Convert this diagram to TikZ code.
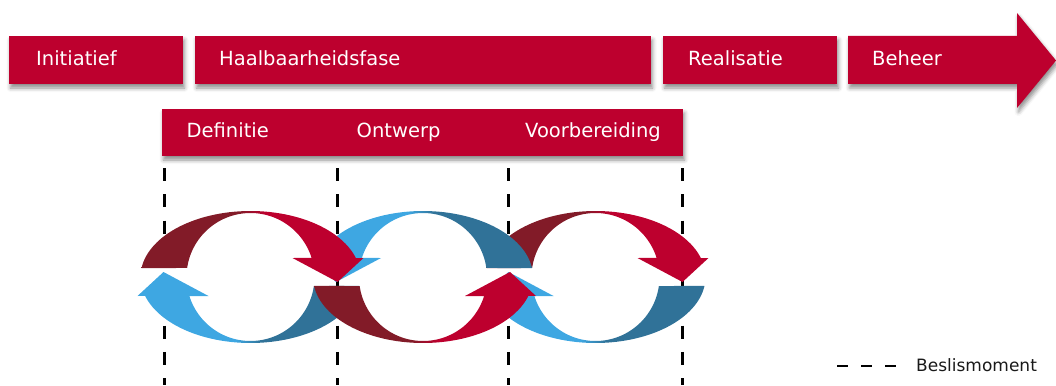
\documentclass[tikz,border=0pt]{standalone}
\usepackage{fontspec}
\setmainfont{DejaVu Sans}
\usetikzlibrary{shadows.blur}
\definecolor{phasered}{RGB}{189,0,46}
\definecolor{cycledarkred}{RGB}{130,27,40}
\definecolor{cyclelightblue}{RGB}{62,167,226}
\definecolor{cycledarkblue}{RGB}{48,114,152}
\pgfdeclarehorizontalshading{redturn}{100bp}{color(0bp)=(cycledarkred); color(47bp)=(cycledarkred); color(53bp)=(phasered); color(100bp)=(phasered)}
\pgfdeclarehorizontalshading{blueturn}{100bp}{color(0bp)=(cyclelightblue); color(47bp)=(cyclelightblue); color(53bp)=(cycledarkblue); color(100bp)=(cycledarkblue)}
\tikzset{
  phasebar/.style={fill=phasered, blur shadow={shadow xshift=1.5pt, shadow yshift=-4pt, shadow blur radius=4pt, shadow opacity=45}},
  phasetext/.style={anchor=base west, text=white, inner sep=0pt, font=\fontsize{19.5}{23}\selectfont},
  beslis/.style={line width=3pt, dash pattern=on 13pt off 13.25pt},
}
\def\halfcycle[#1](#2,#3)(#4,#5){%
  \shade[shading=#1]
    plot[domain=187.8:343.3, samples=60] ({#2+(#4)*110*cos(\x)}, {#3+(#5)*66*sin(\x)})
    -- ({#2+(#4)*113}, {#3-(#5)*19})
    -- ({#2+(#4)*87}, {#3+(#5)*5})
    -- ({#2+(#4)*42}, {#3-(#5)*19})
    -- plot[domain=342.7:188.1, samples=60] ({#2+(#4)*64*cos(\x)}, {#3+(#5)*64*sin(\x)})
    -- cycle;}

\begin{document}
\begin{tikzpicture}[x=1pt, y=-1pt]
			%%%%% START %%%%%
			\useasboundingbox (0,0) rectangle (1056,385);

			% fasen
			\path[phasebar] (9,36) rectangle (183,84);
			\path[phasebar] (195,36) rectangle (651,84);
			\path[phasebar] (663,36) rectangle (837,84);
			\path[phasebar] (848,36) -- (1017,36) -- (1017,13) -- (1056,60.5) -- (1017,108) -- (1017,84) -- (848,84) -- cycle;
			\path[phasebar] (162,109) rectangle (683,156);

			\node[phasetext] (initiatief) at (36,66) {Initiatief};
			\node[phasetext] (haalbaarheid) at (219,66) {Haalbaarheidsfase};
			\node[phasetext] (realisatie) at (688,66) {Realisatie};
			\node[phasetext] (beheer) at (872,66) {Beheer};
			\node[phasetext] (definitie) at (186.5,137) {Definitie};
			\node[phasetext] (ontwerp) at (356.5,137) {Ontwerp};
			\node[phasetext] (voorbereiding) at (525,137) {Voorbereiding};

			% beslismomenten
			\foreach \mx [count=\i] in {164.3,337,508.5,682}{
				\coordinate (moment\i top) at (\mx,168);
				\coordinate (moment\i bot) at (\mx,385);
				\draw[beslis] (moment\i top) -- (moment\i bot);
			}

			% cycli
			\halfcycle[blueturn](595.5,277)(-1,-1)
			\halfcycle[redturn](595.5,277)(1,1)
			\halfcycle[blueturn](423,277)(-1,1)
			\halfcycle[blueturn](250.5,277)(-1,-1)
			\halfcycle[redturn](423,277)(1,-1)
			\halfcycle[redturn](250.5,277)(1,1)

			% legenda
			\coordinate (legend start) at (837,366);
			\coordinate (legend end) at (897,366);
			\draw[line width=2.5pt, dash pattern=on 11pt off 13pt] (legend start) -- (legend end);
			\node[anchor=base west, inner sep=0pt, text=black!90, font=\fontsize{17}{20}\selectfont] (beslismoment) at (916,371) {Beslismoment};
			%%%%% END %%%%%
\end{tikzpicture}
\end{document}
